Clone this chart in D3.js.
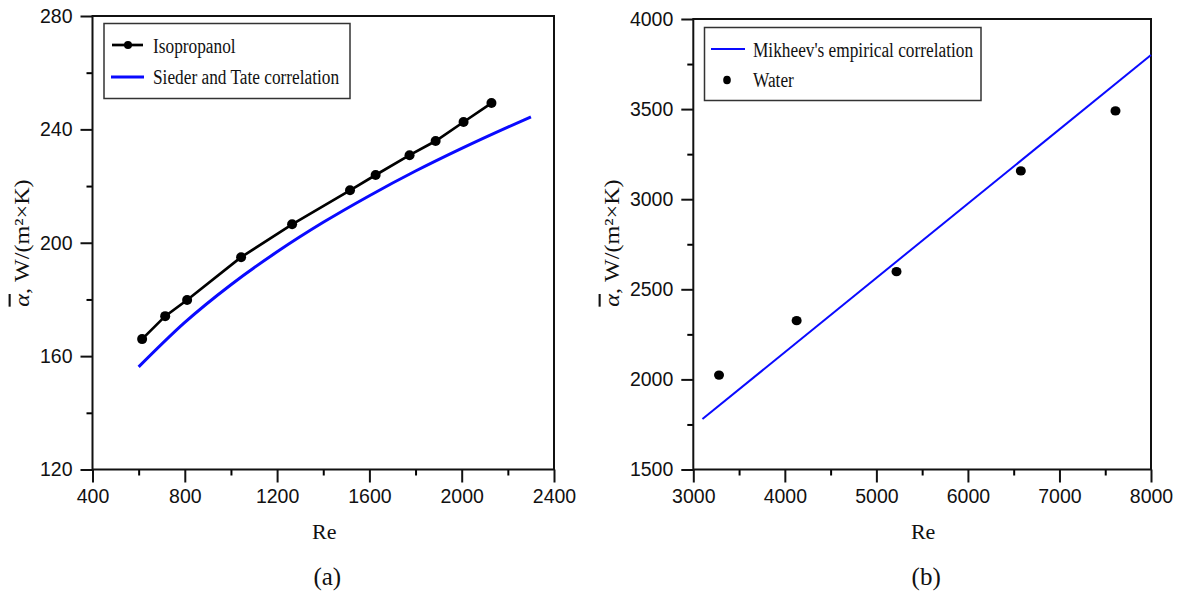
<!DOCTYPE html>
<html lang="en">
<head>
<meta charset="utf-8">
<title>Heat transfer coefficient vs Re</title>
<script src="https://cdn.jsdelivr.net/npm/d3@7"></script>
<style>
  body { margin: 0; background: #fff; }
  svg text { fill: #111; }
</style>
</head>
<body>
<script>
// ---- panel (a) data ----
var isoRe    = [615, 715, 810, 1044, 1265, 1516, 1627, 1774, 1887, 2008, 2129];
var isoAlpha = [166.0, 174.1, 179.8, 194.9, 206.5, 218.5, 223.9, 230.9, 235.9, 242.6, 249.3];
var stRe     = [600, 800, 1000, 1200, 1400, 1600, 1800, 2000, 2200, 2300];
var stAlpha  = [156.2, 171.9, 185.2, 196.8, 207.2, 216.6, 225.3, 233.3, 240.8, 244.4];
var aXTicks  = [400, 800, 1200, 1600, 2000, 2400];
var aYTicks  = [120, 160, 200, 240, 280];

// ---- panel (b) data ----
var waterRe    = [3281, 4129, 5220, 6578, 7612];
var waterAlpha = [2024, 2326, 2598, 3157, 3490];
var mikRe      = [3100, 8000];
var mikAlpha   = [1780, 3800];
var bXTicks    = [3000, 4000, 5000, 6000, 7000, 8000];
var bYTicks    = [1500, 2000, 2500, 3000, 3500, 4000];

var svg = d3.select("body").append("svg")
  .attr("width", 1179).attr("height", 595);

var BLUE = "#0a0aff";

function stext(g, x, y, str, size, stretch) {
  return g.append("text")
    .attr("transform", "translate(" + x + "," + y + ") scale(1," + stretch + ")")
    .style("font-family", "'Liberation Serif', 'Times New Roman', serif")
    .style("font-size", size + "px")
    .text(str);
}

function panel(opt) {
  var x = d3.scaleLinear().domain(opt.xd).range(opt.xr);
  var y = d3.scaleLinear().domain(opt.yd).range(opt.yr);
  var g = svg.append("g");

  // minor ticks (midpoints)
  var xMinor = opt.xt.slice(1).map(function(v, i) { return (v + opt.xt[i]) / 2; });
  var yMinor = opt.yt.slice(1).map(function(v, i) { return (v + opt.yt[i]) / 2; });

  g.append("g").attr("transform", "translate(0," + opt.yr[0] + ")")
    .call(d3.axisBottom(x).tickValues(xMinor).tickSize(6).tickFormat(""))
    .call(function(s) { s.select(".domain").remove(); s.selectAll("line").attr("stroke-width", 2); });
  g.append("g").attr("transform", "translate(" + opt.xr[0] + ",0)")
    .call(d3.axisLeft(y).tickValues(yMinor).tickSize(6).tickFormat(""))
    .call(function(s) { s.select(".domain").remove(); s.selectAll("line").attr("stroke-width", 2); });

  // major ticks
  var xa = g.append("g").attr("transform", "translate(0," + opt.yr[0] + ")")
    .call(d3.axisBottom(x).tickValues(opt.xt).tickSize(13).tickPadding(7).tickFormat(d3.format("d")));
  var ya = g.append("g").attr("transform", "translate(" + opt.xr[0] + ",0)")
    .call(d3.axisLeft(y).tickValues(opt.yt).tickSize(12).tickPadding(8).tickFormat(d3.format("d")));
  [xa, ya].forEach(function(a) {
    a.select(".domain").remove();
    a.selectAll("line").attr("stroke-width", 2).attr("stroke", "#111");
    a.selectAll("text")
      .style("font-family", "'Liberation Sans', Arial, sans-serif")
      .style("font-size", "19.5px").attr("fill", "#222");
  });

  // frame
  g.append("rect")
    .attr("x", opt.xr[0]).attr("y", opt.yr[1])
    .attr("width", opt.xr[1] - opt.xr[0]).attr("height", opt.yr[0] - opt.yr[1])
    .attr("fill", "none").attr("stroke", "#111").attr("stroke-width", 2);

  // axis titles
  var cx = (opt.xr[0] + opt.xr[1]) / 2;
  g.append("text").attr("x", cx + 1).attr("y", 539).attr("text-anchor", "middle")
    .style("font-family", "'Liberation Serif', 'Times New Roman', serif")
    .style("font-size", "22px").text("Re");
  g.append("text").attr("x", cx + 4).attr("y", 585).attr("text-anchor", "middle")
    .style("font-family", "'Liberation Serif', 'Times New Roman', serif")
    .style("font-size", "25px").text(opt.tag);

  var yl = g.append("text")
    .attr("transform", "translate(" + opt.ylx + ",243) scale(1,1.15) rotate(-90)")
    .attr("text-anchor", "middle")
    .style("font-family", "'Liberation Serif', 'Times New Roman', serif")
    .style("font-size", "21px");
  yl.append("tspan").style("font-style", "italic")
    .style("text-decoration", "overline").text("α");
  yl.append("tspan").text(", W/(m²×K)");

  return { g: g, x: x, y: y };
}

// ---------- panel (a) ----------
var A = panel({ xd: [400, 2400], xr: [92.5, 554], yd: [120, 280], yr: [469.5, 16],
                xt: aXTicks, yt: aYTicks, tag: "(a)", ylx: 29 });

var lineA = d3.line().x(function(d) { return A.x(d[0]); }).y(function(d) { return A.y(d[1]); });
var stPts = stRe.map(function(r, i) { return [r, stAlpha[i]]; });
var isoPts = isoRe.map(function(r, i) { return [r, isoAlpha[i]]; });

A.g.append("path").datum(stPts)
  .attr("d", lineA.curve(d3.curveMonotoneX))
  .attr("fill", "none").attr("stroke", BLUE).attr("stroke-width", 3);
A.g.append("path").datum(isoPts)
  .attr("d", d3.line().x(function(d) { return A.x(d[0]); }).y(function(d) { return A.y(d[1]); }))
  .attr("fill", "none").attr("stroke", "#000").attr("stroke-width", 2.7);
A.g.selectAll("circle.iso").data(isoPts).enter().append("circle")
  .attr("class", "iso")
  .attr("cx", function(d) { return A.x(d[0]); })
  .attr("cy", function(d) { return A.y(d[1]); })
  .attr("r", 5).attr("fill", "#000");

// legend (a)
var legA = A.g.append("g");
legA.append("rect").attr("x", 104).attr("y", 23.5).attr("width", 246).attr("height", 75)
  .attr("fill", "#fff").attr("stroke", "#333").attr("stroke-width", 1.5);
legA.append("line").attr("x1", 112).attr("x2", 143).attr("y1", 45).attr("y2", 45)
  .attr("stroke", "#000").attr("stroke-width", 2.7);
legA.append("circle").attr("cx", 128).attr("cy", 45).attr("r", 4).attr("fill", "#000");
stext(legA, 153, 52.5, "Isopropanol", 17.3, 1.17);
legA.append("line").attr("x1", 111).attr("x2", 144).attr("y1", 77).attr("y2", 77)
  .attr("stroke", BLUE).attr("stroke-width", 3);
stext(legA, 153, 84, "Sieder and Tate correlation", 17.3, 1.17);

// ---------- panel (b) ----------
var B = panel({ xd: [3000, 8000], xr: [693.3, 1151], yd: [1500, 4000], yr: [469.5, 19],
                xt: bXTicks, yt: bYTicks, tag: "(b)", ylx: 619 });

var mikPts = mikRe.map(function(r, i) { return [r, mikAlpha[i]]; });
B.g.append("path").datum(mikPts)
  .attr("d", d3.line().x(function(d) { return B.x(d[0]); }).y(function(d) { return B.y(d[1]); }))
  .attr("fill", "none").attr("stroke", BLUE).attr("stroke-width", 2);
B.g.selectAll("ellipse.water").data(waterRe).enter().append("ellipse")
  .attr("class", "water")
  .attr("cx", function(d) { return B.x(d); })
  .attr("cy", function(d, i) { return B.y(waterAlpha[i]); })
  .attr("rx", 5).attr("ry", 4.7).attr("fill", "#000");

// legend (b)
var legB = B.g.append("g");
legB.append("rect").attr("x", 704.5).attr("y", 27.5).attr("width", 276.5).attr("height", 73)
  .attr("fill", "#fff").attr("stroke", "#333").attr("stroke-width", 1.5);
legB.append("line").attr("x1", 711).attr("x2", 745).attr("y1", 49).attr("y2", 49)
  .attr("stroke", BLUE).attr("stroke-width", 2);
stext(legB, 753, 56.5, "Mikheev's empirical correlation", 17.3, 1.17);
legB.append("ellipse").attr("cx", 727).attr("cy", 80).attr("rx", 3.8).attr("ry", 4.3).attr("fill", "#000");
stext(legB, 753, 87, "Water", 17.3, 1.17);
</script>
</body>
</html>
